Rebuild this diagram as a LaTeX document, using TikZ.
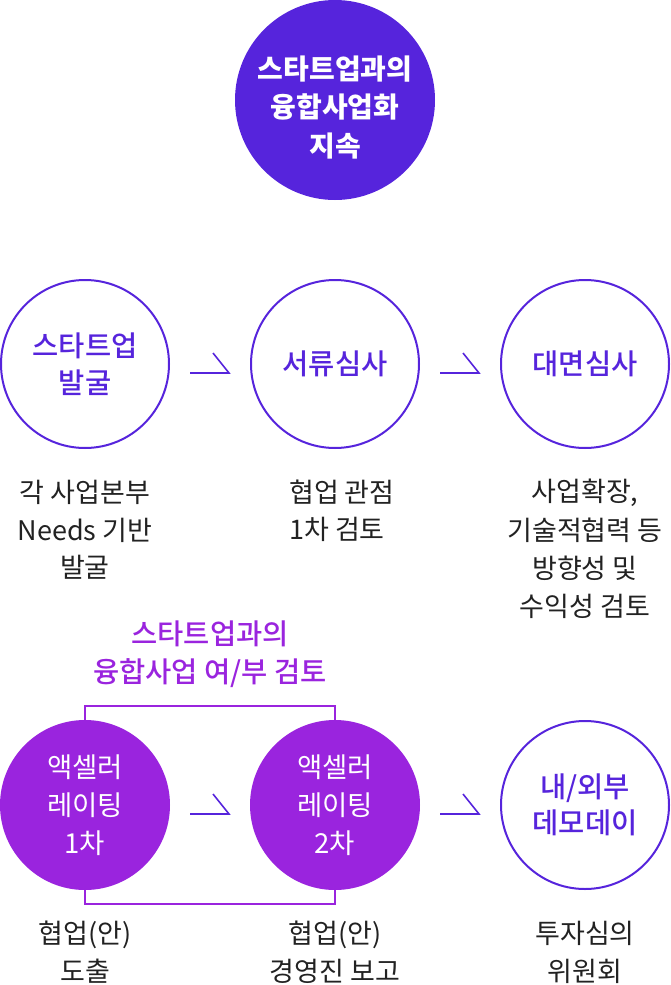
\documentclass[tikz,border=0pt]{standalone}
\usepackage{fontspec}
\setmainfont{Noto Sans CJK KR}
\newfontfamily\medfont{Noto Sans CJK KR Medium}
\definecolor{bluep}{RGB}{86,36,220}
\definecolor{purp}{RGB}{154,36,222}
\definecolor{txt}{RGB}{34,34,34}
\begin{document}
\begin{tikzpicture}[x=1pt,y=-1pt,
  outl/.style={circle,draw=bluep,line width=2pt,minimum size=168pt,inner sep=0pt,text=bluep,align=center,font=\medfont\fontsize{28.5}{36.5}\selectfont},
  fillp/.style={circle,fill=purp,minimum size=170pt,inner sep=0pt,text=white,align=center,font=\fontsize{27.5}{38}\selectfont},
  desc/.style={text=txt,align=center,inner sep=0pt,font=\fontsize{27}{37.5}\selectfont},
  arr/.style={draw=bluep,line width=1.6pt},
  bracket/.style={draw=purp,line width=2pt},
]
\useasboundingbox (0,0) rectangle (670,985);
% top
\node[circle,fill=bluep,minimum size=200pt,inner sep=0pt] (top) at (335,100) {};
\node[text=white,align=center,inner sep=0pt,font=\bfseries\fontsize{28}{38.5}\selectfont] (toptext) at (335,107) {스타트업과의\\융합사업화\\지속};
% row 1
\node[outl] (a1) at (85,364) {스타트업\\발굴};
\node[outl] (a2) at (335,364) {서류심사};
\node[outl] (a3) at (585,364) {대면심사};
% arrows row 1
\coordinate (p1) at (190,373);
\draw[arr] (p1) -- ++(39,0) -- ++(-16,-20);
\coordinate (p2) at (440,373);
\draw[arr] (p2) -- ++(39,0) -- ++(-16,-20);
% descriptions row 1
\node[desc] (d1) at (85,530) {각 사업본부\\Needs 기반\\발굴};
\node[desc,align=left,anchor=west] (d2) at (289,511) {협업 관점\\1차 검토};
\node[desc,font=\fontsize{27}{38.3}\selectfont] (d3) at (585,549) {사업확장,\\기술적협력 등\\방향성 및\\수익성 검토};
% purple label
\node[text=purp,align=center,inner sep=0pt,font=\medfont\fontsize{28.5}{38}\selectfont] (lab) at (210,654) {스타트업과의\\융합사업 여/부 검토};
% row 2
\coordinate (b1c) at (85,805);
\coordinate (b2c) at (335,805);
\draw[bracket] (b1c) -- (85,706) -- (335,706) -- (b2c);
\draw[bracket] (b1c) -- (85,904) -- (335,904) -- (b2c);
\node[fillp] (b1) at (b1c) {액셀러\\레이팅\\1차};
\node[fillp] (b2) at (b2c) {액셀러\\레이팅\\2차};
\node[outl,font=\medfont\fontsize{28.5}{35.5}\selectfont] (b3) at (585,805) {내/외부\\데모데이};
\coordinate (p3) at (190,814);
\draw[arr] (p3) -- ++(39,0) -- ++(-16,-20);
\coordinate (p4) at (440,814);
\draw[arr] (p4) -- ++(39,0) -- ++(-16,-20);
% descriptions row 2
\node[desc,font=\fontsize{27}{38}\selectfont] (e1) at (85,952) {협업(안)\\도출};
\node[desc,font=\fontsize{27}{38}\selectfont] (e2) at (335,952) {협업(안)\\경영진 보고};
\node[desc,font=\fontsize{27}{38}\selectfont] (e3) at (585,952) {투자심의\\위원회};
\end{tikzpicture}
\end{document}
